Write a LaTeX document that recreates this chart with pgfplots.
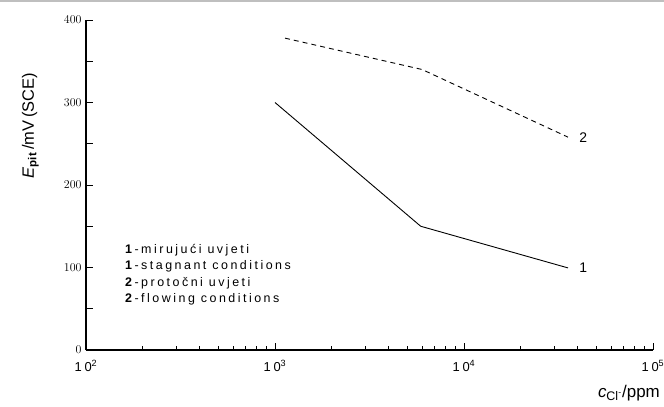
\documentclass[border=0pt]{standalone}
\usepackage{fontspec}
\setmainfont{Liberation Sans}
\newfontfamily\lsfont[LetterSpace=20]{Liberation Sans}
\usepackage{pgfplots}
\pgfplotsset{compat=1.18}
\begin{document}
\begin{tikzpicture}
\useasboundingbox (0,0) rectangle (664bp,407bp);
\draw[black!25, line width=1.5bp] (0,406bp) -- (664bp,406bp);
\begin{axis}[
  at={(86bp,57bp)}, anchor=south west,
  scale only axis, width=567bp, height=330bp,
  xmode=log, xmin=100, xmax=100000, ymin=0, ymax=400,
  axis x line*=bottom, axis y line*=left,
  axis line style={line width=1.4bp,-},
  tick align=inside,
  major tick length=7bp, minor tick length=4bp,
  every tick/.style={black, line width=0.9bp},
  xtick={100,1000,10000,100000},
  xticklabels={10\textsuperscript{2},10\textsuperscript{3},10\textsuperscript{4},10\textsuperscript{5}},
  ytick={0,100,200,300,400},
  extra y ticks={50,150,250,350},
  extra y tick labels={},
  extra y tick style={major tick length=7bp},
  tick label style={font=\lsfont\fontsize{13}{15}\selectfont},
  yticklabel style={xshift=-1bp},
  xticklabel style={yshift=-7bp},
  clip=false,
]
\addplot[black, line width=0.9bp] coordinates {(1000,300) (5900,150) (35500,99.5)};
\addplot[black, line width=0.9bp, dash pattern=on 5bp off 4bp] coordinates {(1130,378) (6000,340) (35500,258)};
\node[font=\lsfont\fontsize{14}{16}\selectfont] at (axis cs:42700,99.4) {1};
\node[font=\lsfont\fontsize{14}{16}\selectfont] at (axis cs:42700,258) {2};
\node[rotate=90, font=\fontsize{16.5}{18}\selectfont] at (axis description cs:-0.098,0.68) {\textit{E}\textsubscript{\textbf{pit}}\,/mV\,(SCE)};
\end{axis}
\node[anchor=north west, align=left, font=\lsfont\fontsize{12.5}{16.5}\selectfont, inner sep=0pt] at (125bp,163bp) {\textbf{1}-mirujući uvjeti\\\textbf{1}-stagnant conditions\\\textbf{2}-protočni uvjeti\\\textbf{2}-flowing conditions};
\node[anchor=base east, font=\fontsize{17}{19}\selectfont, inner sep=0pt] at (660bp,10bp) {\textit{c}\textsubscript{\fontsize{12.5}{13}\selectfont Cl\textsuperscript{-}}/ppm};
\end{tikzpicture}
\end{document}
